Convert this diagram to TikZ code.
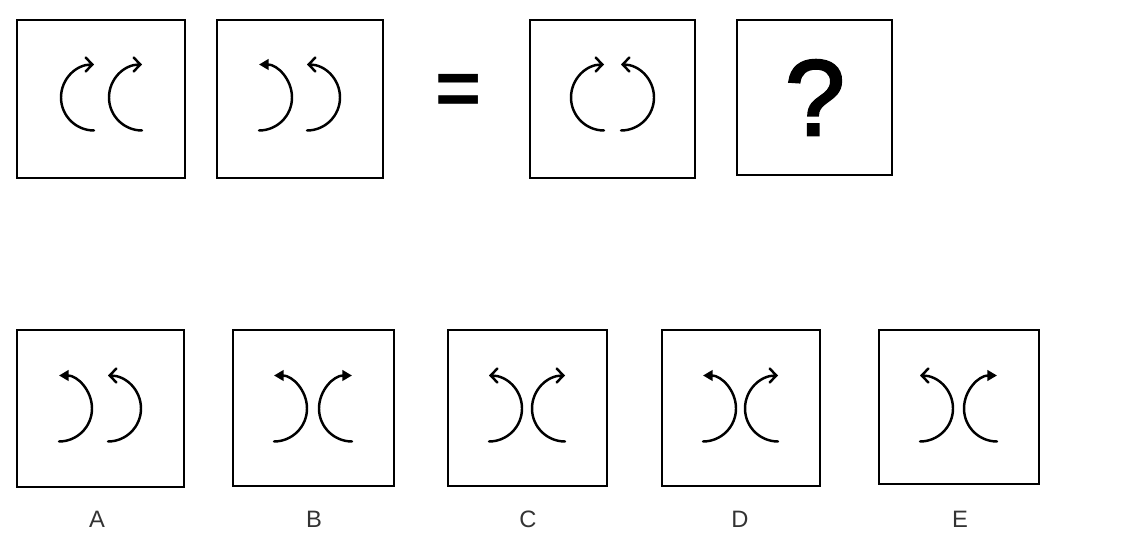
\documentclass[tikz,border=0pt]{standalone}
\usepackage{fontspec}
\setmainfont{Liberation Sans}
\newfontfamily\askfont{Liberation Sans}[FakeBold=2.5]
\usetikzlibrary{arrows.meta}
\tikzset{
  frame/.style={line width=1.1pt},
  bow/.style={line width=1.4pt, line cap=round},
  open/.style={-{Straight Barb[length=3.8pt,width=8pt,line cap=round]}},
  full/.style={-{Triangle[length=5.5pt,width=6pt]}},
  letter/.style={text=black!80, font=\fontsize{13.5}{15}\selectfont},
}
% bottom end of the bow is given, radius fixed
\newcommand{\cbow}[3]{\draw[bow,#3] (#1,#2) arc[start angle=270,end angle=90,radius=33];}
\newcommand{\rbow}[3]{\draw[bow,#3] (#1,#2) arc[start angle=-90,end angle=90,radius=33];}
\begin{document}
\begin{tikzpicture}[x=0.02cm, y=0.02cm]
  \useasboundingbox (0,0) rectangle (1125,544);
  % top row
  \draw[frame] (17,366) rectangle (185,524);
  \draw[frame] (217,366) rectangle (383,524);
  \draw[frame] (530,366) rectangle (695,524);
  \draw[frame] (737,369) rectangle (892,524);
  \cbow{94}{413.5}{open} \cbow{142}{413.5}{open}
  \rbow{259}{413.5}{full} \rbow{307}{413.5}{open}
  \cbow{604}{413.5}{open} \rbow{621}{413.5}{open}
  \node[font=\fontsize{45}{45}\selectfont\bfseries, inner sep=0pt] (eq) at (459,449.5) {=};
  \node[font=\fontsize{61}{61}\askfont, inner sep=0pt] (ask) at (815,446.5) {?};
  % answers
  \draw[frame] (17,57) rectangle (184,214);
  \draw[frame] (233,58) rectangle (394,214);
  \draw[frame] (448,58) rectangle (607,214);
  \draw[frame] (662,58) rectangle (820,214);
  \draw[frame] (879,60) rectangle (1039,214);
  \rbow{59}{102.5}{full} \rbow{108}{102.5}{open}
  \rbow{274}{102.5}{full} \cbow{352}{102.5}{full}
  \rbow{489}{102.5}{open} \cbow{565}{102.5}{open}
  \rbow{703}{102.5}{full} \cbow{778}{102.5}{open}
  \rbow{920}{102.5}{open} \cbow{997}{102.5}{full}
  \node[letter] (la) at (97,25) {A};
  \node[letter] (lb) at (314,25) {B};
  \node[letter] (lc) at (528,25) {C};
  \node[letter] (ld) at (740,25) {D};
  \node[letter] (le) at (960,25) {E};
\end{tikzpicture}
\end{document}
